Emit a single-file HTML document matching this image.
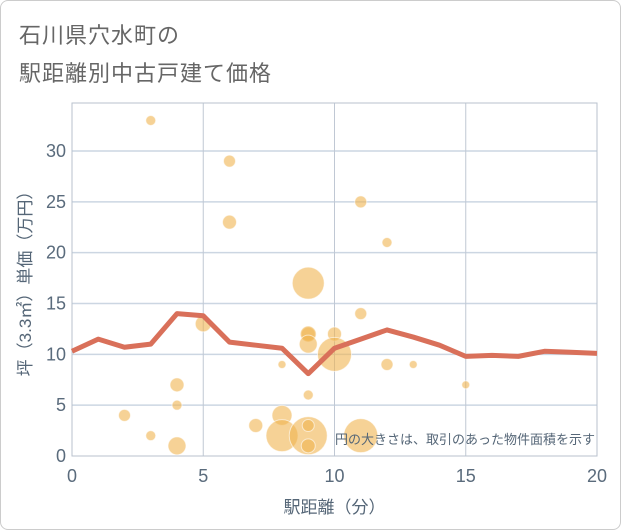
<!DOCTYPE html>
<html><head><meta charset="utf-8"><style>
body{margin:0;background:#fff;font-family:"Liberation Sans","Noto Sans CJK JP",sans-serif}
#card{position:absolute;left:0;top:0;width:619px;height:528px;border:1px solid #ccc;border-radius:8px;background:#fff}
.t{position:absolute;left:18px;font-size:22px;color:#666;letter-spacing:1px}
</style></head><body>
<div id="card">
<div class="t" style="top:17px">石川県穴水町の</div>
<div class="t" style="top:55px">駅距離別中古戸建て価格</div>
</div>
<svg id="c" width="621" height="530" style="position:absolute;left:0;top:0"></svg>
<script>
const bubX=[3,6,6,11,12,9,11,5,9,9,10,9,10,8,12,13,4,15,9,2,4,8,7,3,8,9,9,9,4,11];
const bubY=[33,29,23,25,21,17,14,13,12,12,12,11,10,9,9,9,7,7,6,4,5,4,3,2,2,2,3,1,1,2];
const bubR=[5,6,7,6,5,16,6,8,7,8,7,9,17,4,6,4,7,4,5,6,5,10,7,5,16,19,6,7,9,17];
const lineX=[0,1,2,3,4,5,6,7,8,9,10,11,12,13,14,15,16,17,18,19,20];
const lineY=[10.3,11.5,10.7,11,14,13.8,11.2,10.9,10.6,8.1,10.6,11.5,12.4,11.7,10.9,9.8,9.9,9.8,10.3,10.2,10.1];
const xTicks=[0,5,10,15,20];
const yTicks=[0,5,10,15,20,25,30];
const L=72,R=597,T=103,B=456;
const sx=v=>L+(R-L)*v/20, sy=v=>B-(B-151)*v/30;
const svg=document.getElementById('c');const NS='http://www.w3.org/2000/svg';
function mk(t,a,p){const e=document.createElementNS(NS,t);for(const k in a)e.setAttribute(k,a[k]);(p||svg).appendChild(e);return e;}
yTicks.forEach(v=>{if(v>0){const g=mk('line',{x1:L,x2:R,y1:sy(v),y2:sy(v),stroke:'#ccd6e2','stroke-width':1.5});

}
const t=mk('text',{x:L-6,y:sy(v)+6,'text-anchor':'end','font-size':18,fill:'#5a6b7c'});t.textContent=v;

});
xTicks.forEach(v=>{if(v>0&&v<20){const g=mk('line',{x1:sx(v),x2:sx(v),y1:T,y2:B,stroke:'#c0c8d4','stroke-width':1});

}
const t=mk('text',{x:sx(v),y:B+26,'text-anchor':'middle','font-size':18,fill:'#5a6b7c'});t.textContent=v;

});
const fr=mk('rect',{x:L,y:T,width:R-L,height:B-T,fill:'none',stroke:'#b8c2ce','stroke-width':1});


bubX.forEach((x,i)=>{const c=mk('circle',{cx:sx(x),cy:sy(bubY[i]),r:bubR[i],fill:'rgba(240,180,80,0.6)',stroke:'rgba(255,255,255,0.6)','stroke-width':1});

});
const p=mk('polyline',{points:lineX.map((x,i)=>sx(x)+','+sy(lineY[i])).join(' '),fill:'none',stroke:'#d9705a','stroke-width':5,'stroke-linejoin':'round'});


const n=mk('text',{x:R-2,y:444,'text-anchor':'end','font-size':13,fill:'#556677'});n.textContent='円の大きさは、取引のあった物件面積を示す';


const xt=mk('text',{x:(L+R)/2,y:513,'text-anchor':'middle','font-size':17,fill:'#556677'});xt.textContent='駅距離（分）';


const yt=mk('text',{x:0,y:0,'text-anchor':'middle','font-size':17,fill:'#556677',transform:'translate(31,'+((T+B)/2)+') rotate(-90)'});yt.textContent='坪（3.3㎡）単価（万円）';


</script></body></html>
